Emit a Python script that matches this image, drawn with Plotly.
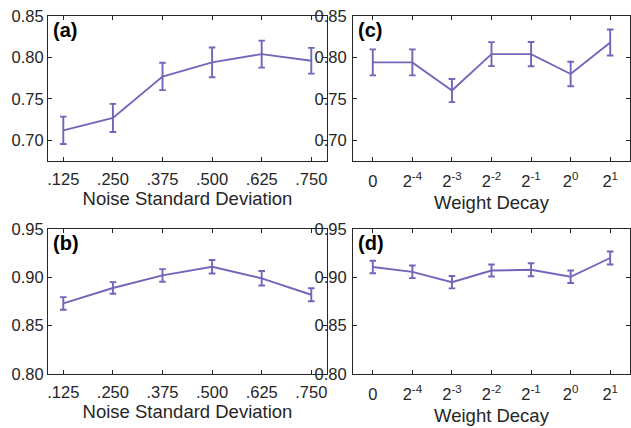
import plotly.graph_objects as go

# ---- data ----
noise_sd = [0.125, 0.250, 0.375, 0.500, 0.625, 0.750]
noise_labels = [".125", ".250", ".375", ".500", ".625", ".750"]
wd_labels = ["0", "2<sup>-4</sup>", "2<sup>-3</sup>", "2<sup>-2</sup>", "2<sup>-1</sup>", "2<sup>0</sup>", "2<sup>1</sup>"]

a_mean = [0.712, 0.727, 0.777, 0.794, 0.804, 0.796]
a_err = [0.0165, 0.017, 0.0165, 0.018, 0.0163, 0.0155]
b_mean = [0.873, 0.889, 0.902, 0.911, 0.899, 0.882]
b_err = [0.0065, 0.006, 0.0065, 0.007, 0.0075, 0.0067]
c_mean = [0.794, 0.794, 0.760, 0.804, 0.804, 0.780, 0.818]
c_err = [0.0157, 0.0157, 0.014, 0.0145, 0.0147, 0.0147, 0.0157]
d_mean = [0.9107, 0.9057, 0.895, 0.907, 0.9078, 0.9006, 0.920]
d_err = [0.0065, 0.0065, 0.0064, 0.0062, 0.0067, 0.0065, 0.0067]

ytick_top = [0.70, 0.75, 0.80, 0.85]
ytick_bot = [0.80, 0.85, 0.90, 0.95]

W, H = 631, 428
COLOR = "#7167BA"
DARK = "#262626"
FONT = "Liberation Sans, Arial, Helvetica, sans-serif"

def px_x(a, b):
    return [a / W, b / W]

def px_y(top, bottom):
    return [1 - bottom / H, 1 - top / H]

fig = go.Figure()
wd_idx = list(range(len(wd_labels)))

panels = [
    ("x", "y", noise_sd, a_mean, a_err),
    ("x2", "y2", wd_idx, c_mean, c_err),
    ("x3", "y3", noise_sd, b_mean, b_err),
    ("x4", "y4", wd_idx, d_mean, d_err),
]
for xa, ya, xs, m, e in panels:
    fig.add_trace(go.Scatter(
        x=xs, y=m, xaxis=xa, yaxis=ya, mode="lines",
        line=dict(color=COLOR, width=1.9),
        error_y=dict(type="data", array=e, visible=True, color=COLOR,
                     thickness=1.9, width=3.3),
        showlegend=False, hoverinfo="skip",
    ))

common = dict(showline=True, linecolor=DARK, linewidth=1, mirror="ticks",
              ticks="inside", ticklen=4, tickcolor=DARK, tickwidth=1,
              showgrid=False, zeroline=False, automargin=False,
              tickfont=dict(family=FONT, size=16.5, color=DARK))
title_font = dict(family=FONT, size=18.5, color=DARK)

xl = px_x(48, 327)
xr = px_x(353, 630)
yt = px_y(16, 161)
yb = px_y(229, 374)

fig.update_layout(
    template="none",
    width=W, height=H, margin=dict(l=0, r=0, t=0, b=0),
    paper_bgcolor="white", plot_bgcolor="white",
    xaxis=dict(domain=xl, anchor="y", range=[0.0864, 0.7896],
               tickvals=noise_sd, ticktext=noise_labels, ticklabelstandoff=3,
               title=dict(text="Noise Standard Deviation", font=title_font, standoff=4), **common),
    yaxis=dict(domain=yt, anchor="x", range=[0.675, 0.85], tickvals=ytick_top,
               tickformat=".2f", **common),
    xaxis2=dict(domain=xr, anchor="y2", range=[-0.5, 6.5],
                tickvals=wd_idx, ticktext=wd_labels, ticklabelstandoff=5,
                title=dict(text="Weight Decay", font=title_font, standoff=7), **common),
    yaxis2=dict(domain=yt, anchor="x2", range=[0.675, 0.85], tickvals=ytick_top,
                tickformat=".2f", ticklabelstandoff=2, **common),
    xaxis3=dict(domain=xl, anchor="y3", range=[0.0864, 0.7896],
                tickvals=noise_sd, ticktext=noise_labels, ticklabelstandoff=3,
                title=dict(text="Noise Standard Deviation", font=title_font, standoff=4), **common),
    yaxis3=dict(domain=yb, anchor="x3", range=[0.80, 0.95], tickvals=ytick_bot,
                tickformat=".2f", **common),
    xaxis4=dict(domain=xr, anchor="y4", range=[-0.5, 6.5],
                tickvals=wd_idx, ticktext=wd_labels, ticklabelstandoff=5,
                title=dict(text="Weight Decay", font=title_font, standoff=7), **common),
    yaxis4=dict(domain=yb, anchor="x4", range=[0.80, 0.95], tickvals=ytick_bot,
                tickformat=".2f", ticklabelstandoff=2, **common),
)

for lab, xa, ya in [("(a)", "x", "y"), ("(c)", "x2", "y2"), ("(b)", "x3", "y3"), ("(d)", "x4", "y4")]:
    fig.add_annotation(text="<b>" + lab + "</b>", xref=xa + " domain", yref=ya + " domain",
                       x=0.012, y=0.995, xanchor="left", yanchor="top", showarrow=False,
                       font=dict(family=FONT, size=20, color="black"))

fig.write_html("out.html", config={"displayModeBar": False},
               post_script="document.body.style.margin='0';document.body.style.padding='0';document.body.style.overflow='hidden';")
